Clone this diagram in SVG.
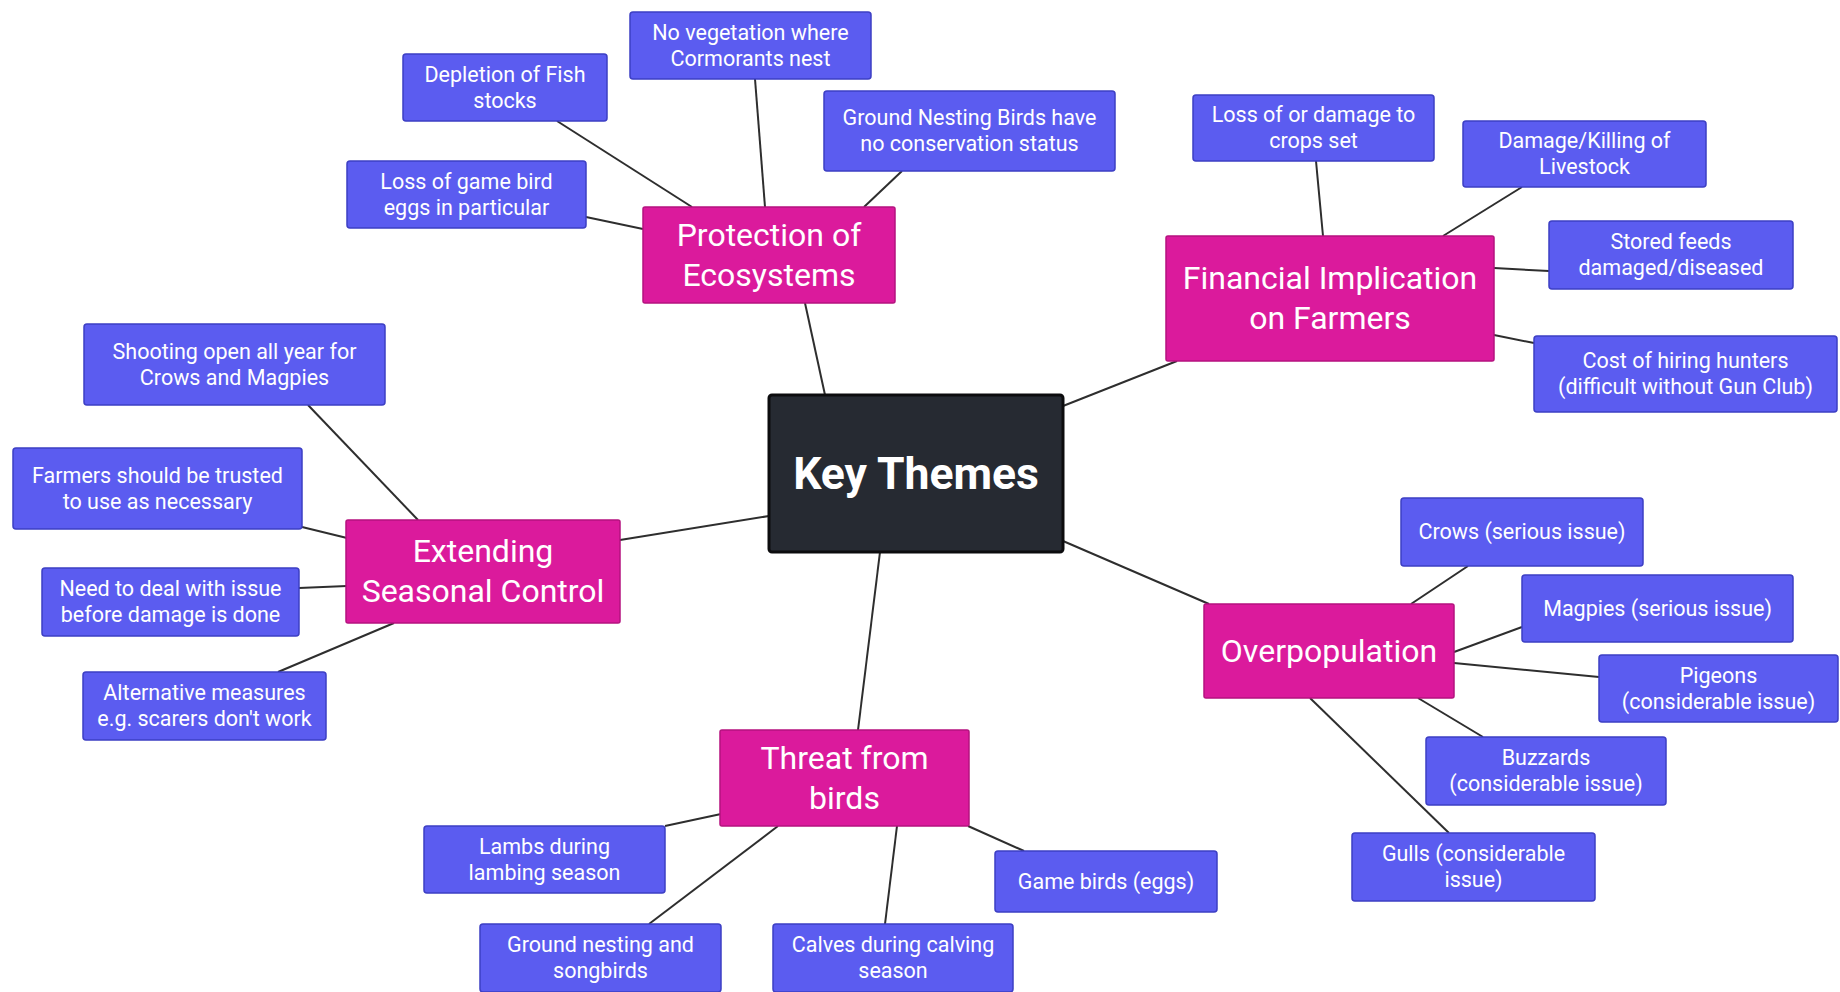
<svg xmlns="http://www.w3.org/2000/svg" width="1840" height="992" viewBox="0 0 1840 992">
<style>
.leaf rect{fill:#5b5cf0;stroke:#3d3fc4;stroke-width:1.5}
.leaf text{fill:#ffffff;font-family:Roboto,"Liberation Sans",sans-serif;font-size:21.5px;text-anchor:middle}
.theme rect{fill:#db1a9c;stroke:#b5127f;stroke-width:1.5}
.theme text{fill:#ffffff;font-family:Roboto,"Liberation Sans",sans-serif;font-size:32px;text-anchor:middle}
.core rect{fill:#262a32;stroke:#0c0c0e;stroke-width:3}
.core text{fill:#ffffff;font-family:Roboto,"Liberation Sans",sans-serif;font-size:44.5px;font-weight:bold;text-anchor:middle}
#connectors line{stroke:#2e2e2e;stroke-width:2}
</style>
<rect x="0" y="0" width="1840" height="992" fill="#ffffff"/>
<g id="connectors">
<line x1="825" y1="395" x2="805" y2="303"/>
<line x1="1063" y1="406" x2="1177" y2="361"/>
<line x1="769" y1="516" x2="620" y2="540"/>
<line x1="1063" y1="541" x2="1209" y2="604"/>
<line x1="880" y1="552" x2="858" y2="730"/>
<line x1="557" y1="121" x2="692" y2="207"/>
<line x1="755" y1="79" x2="765" y2="207"/>
<line x1="902" y1="171" x2="864" y2="207"/>
<line x1="586" y1="217" x2="643" y2="229"/>
<line x1="1316" y1="161" x2="1323" y2="236"/>
<line x1="1522" y1="187" x2="1443" y2="236"/>
<line x1="1494" y1="268" x2="1549" y2="271"/>
<line x1="1494" y1="335" x2="1534" y2="343"/>
<line x1="308" y1="405" x2="418" y2="520"/>
<line x1="302" y1="527" x2="347" y2="538"/>
<line x1="299" y1="588" x2="347" y2="586"/>
<line x1="278" y1="672" x2="394" y2="623"/>
<line x1="1468" y1="566" x2="1411" y2="604"/>
<line x1="1522" y1="627" x2="1454" y2="652"/>
<line x1="1599" y1="677" x2="1454" y2="663"/>
<line x1="1483" y1="737" x2="1418" y2="698"/>
<line x1="1449" y1="833" x2="1310" y2="698"/>
<line x1="665" y1="826" x2="721" y2="814"/>
<line x1="649" y1="924" x2="778" y2="826"/>
<line x1="885" y1="924" x2="897" y2="826"/>
<line x1="1024" y1="851" x2="968" y2="826"/>
</g>
<g id="key-themes" class="core"><rect x="769" y="395" width="294" height="157" rx="3"/><text x="916" y="489">Key Themes</text></g>
<g id="protection" class="theme"><rect x="643" y="207" width="252" height="96" rx="2"/><text x="769" y="246">Protection of</text><text x="769" y="286">Ecosystems</text></g>
<g id="financial" class="theme"><rect x="1166" y="236" width="328" height="125" rx="2"/><text x="1330" y="289">Financial Implication</text><text x="1330" y="329">on Farmers</text></g>
<g id="extending" class="theme"><rect x="346" y="520" width="274" height="103" rx="2"/><text x="483" y="562">Extending</text><text x="483" y="602">Seasonal Control</text></g>
<g id="overpopulation" class="theme"><rect x="1204" y="604" width="250" height="94" rx="2"/><text x="1329" y="662">Overpopulation</text></g>
<g id="threat" class="theme"><rect x="720" y="730" width="249" height="96" rx="2"/><text x="844.5" y="769">Threat from</text><text x="844.5" y="809">birds</text></g>
<g id="depletion" class="leaf"><rect x="403" y="54" width="204" height="67" rx="3"/><text x="505" y="81.5">Depletion of Fish</text><text x="505" y="107.5">stocks</text></g>
<g id="no-vegetation" class="leaf"><rect x="630" y="12" width="241" height="67" rx="3"/><text x="750.5" y="39.5">No vegetation where</text><text x="750.5" y="65.5">Cormorants nest</text></g>
<g id="ground-nesting-status" class="leaf"><rect x="824" y="91" width="291" height="80" rx="3"/><text x="969.5" y="125">Ground Nesting Birds have</text><text x="969.5" y="151">no conservation status</text></g>
<g id="game-bird-eggs" class="leaf"><rect x="347" y="161" width="239" height="67" rx="3"/><text x="466.5" y="188.5">Loss of game bird</text><text x="466.5" y="214.5">eggs in particular</text></g>
<g id="crops" class="leaf"><rect x="1193" y="95" width="241" height="66" rx="3"/><text x="1313.5" y="122">Loss of or damage to</text><text x="1313.5" y="148">crops set</text></g>
<g id="livestock" class="leaf"><rect x="1463" y="121" width="243" height="66" rx="3"/><text x="1584.5" y="148">Damage/Killing of</text><text x="1584.5" y="174">Livestock</text></g>
<g id="stored-feeds" class="leaf"><rect x="1549" y="221" width="244" height="68" rx="3"/><text x="1671" y="249">Stored feeds</text><text x="1671" y="275">damaged/diseased</text></g>
<g id="hunters" class="leaf"><rect x="1534" y="336" width="303" height="76" rx="3"/><text x="1685.5" y="368">Cost of hiring hunters</text><text x="1685.5" y="394">(difficult without Gun Club)</text></g>
<g id="shooting" class="leaf"><rect x="84" y="324" width="301" height="81" rx="3"/><text x="234.5" y="358.5">Shooting open all year for</text><text x="234.5" y="384.5">Crows and Magpies</text></g>
<g id="farmers-trusted" class="leaf"><rect x="13" y="448" width="289" height="81" rx="3"/><text x="157.5" y="482.5">Farmers should be trusted</text><text x="157.5" y="508.5">to use as necessary</text></g>
<g id="deal-issue" class="leaf"><rect x="42" y="568" width="257" height="68" rx="3"/><text x="170.5" y="596">Need to deal with issue</text><text x="170.5" y="622">before damage is done</text></g>
<g id="alternative" class="leaf"><rect x="83" y="672" width="243" height="68" rx="3"/><text x="204.5" y="700">Alternative measures</text><text x="204.5" y="726">e.g. scarers don't work</text></g>
<g id="crows" class="leaf"><rect x="1401" y="498" width="242" height="68" rx="3"/><text x="1522" y="539">Crows (serious issue)</text></g>
<g id="magpies" class="leaf"><rect x="1522" y="575" width="271" height="67" rx="3"/><text x="1657.5" y="615.5">Magpies (serious issue)</text></g>
<g id="pigeons" class="leaf"><rect x="1599" y="655" width="239" height="67" rx="3"/><text x="1718.5" y="682.5">Pigeons</text><text x="1718.5" y="708.5">(considerable issue)</text></g>
<g id="buzzards" class="leaf"><rect x="1426" y="737" width="240" height="68" rx="3"/><text x="1546" y="765">Buzzards</text><text x="1546" y="791">(considerable issue)</text></g>
<g id="gulls" class="leaf"><rect x="1352" y="833" width="243" height="68" rx="3"/><text x="1473.5" y="861">Gulls (considerable</text><text x="1473.5" y="887">issue)</text></g>
<g id="lambs" class="leaf"><rect x="424" y="826" width="241" height="67" rx="3"/><text x="544.5" y="853.5">Lambs during</text><text x="544.5" y="879.5">lambing season</text></g>
<g id="ground-nesting-songbirds" class="leaf"><rect x="480" y="924" width="241" height="68" rx="3"/><text x="600.5" y="952">Ground nesting and</text><text x="600.5" y="978">songbirds</text></g>
<g id="calves" class="leaf"><rect x="773" y="924" width="240" height="68" rx="3"/><text x="893" y="952">Calves during calving</text><text x="893" y="978">season</text></g>
<g id="game-birds" class="leaf"><rect x="995" y="851" width="222" height="61" rx="3"/><text x="1106" y="888.5">Game birds (eggs)</text></g>
</svg>
